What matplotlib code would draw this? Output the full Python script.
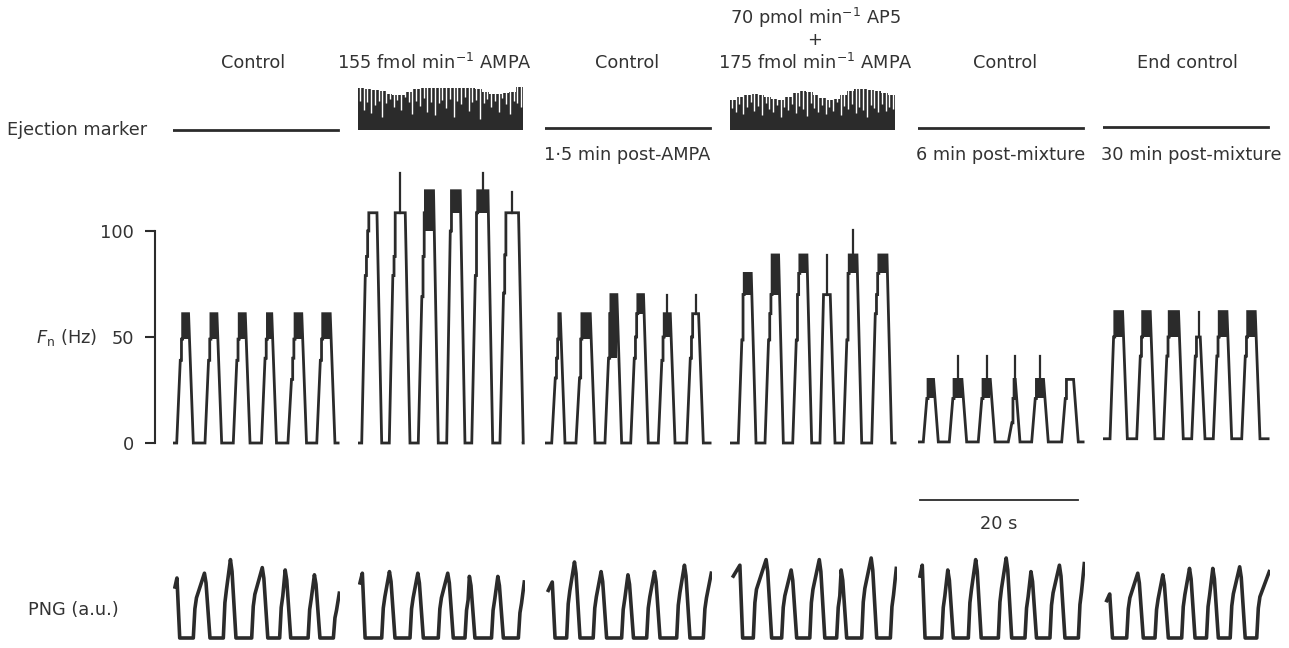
import numpy as np
import matplotlib.pyplot as plt

W, H = 1289, 648
INK = '#2b2b2b'
plt.rcParams['font.family'] = ['DejaVu Sans']
plt.rcParams['mathtext.default'] = 'regular'
plt.rcParams['font.size'] = 12.8
plt.rcParams['text.color'] = '#333333'

# panel layout (pixels) and time scale
panel_x = [173, 358, 545, 730, 918, 1103]
PX_PER_S = 7.9
T_SPAN = 21.1

# firing rate bursts (s, Hz)
r1_on = [0.47, 4.05, 7.63, 11.2, 14.55, 18.2]
r1_off = [2.57, 6.16, 9.75, 13.1, 16.9, 20.5]
r1_steps = [[39, 49], [39, 49], [39, 49], [40, 49], [30, 40, 49], [39, 49]]
r1_top = [61, 61, 61, 61, 61, 61]
r1_blk = [49, 49, 49, 49, 49, 49]
r1_spk = [61, 61, 61, 61, 61, 61]

r2_on = [0.47, 3.96, 7.63, 11.23, 14.4, 17.97]
r2_off = [3.0, 6.58, 10.16, 13.54, 17.05, 20.92]
r2_steps = [[79, 88, 100], [79, 88], [69, 88, 108.6], [100], [79, 108.6], [70.7, 88.7]]
r2_top = [108.6, 108.6, 119, 119, 119, 108.6]
r2_blk = [108.6, 108.6, 100, 108.6, 108.6, 108.6]
r2_spk = [108.6, 127.5, 119, 119, 127.5, 118.6]

r3_on = [0.85, 3.92, 7.59, 10.85, 14.34, 17.94]
r3_off = [2.53, 6.33, 9.7, 13.07, 16.46, 20.04]
r3_steps = [[30.7, 40, 49], [30.7, 49], [40, 61], [40, 50, 61], [39, 50], [40, 50, 61]]
r3_top = [61, 61, 70, 70, 61, 61]
r3_blk = [49, 49, 40, 61, 50, 61]
r3_spk = [61, 61, 70, 70, 70, 70]

r4_on = [1.05, 4.43, 7.94, 11.39, 14.34, 17.94]
r4_off = [3.29, 6.75, 10.34, 13.29, 16.67, 20.47]
r4_steps = [[48.6, 70], [48.6, 61, 70], [48.6, 70, 80], [70], [48.6, 80], [61, 70, 80]]
r4_top = [80, 88.7, 88.7, 70, 88.7, 88.7]
r4_blk = [70, 70, 80, 70, 80, 80]
r4_spk = [80, 88.7, 88.7, 88.7, 100.5, 88.7]

r5_on = [0.67, 3.96, 7.63, 11.43, 14.39, 18.19]
r5_off = [2.57, 6.16, 9.75, 12.91, 16.49, 20.29]
r5_steps = [[21], [21], [21], [9.5, 21], [21], [21]]
r5_top = [30, 30, 30, 30, 30, 30]
r5_blk = [21, 21, 21, 21, 21, 30]
r5_spk = [30, 41, 41, 41, 41, 30]

r6_on = [0.89, 4.27, 7.63, 11.23, 13.96, 17.56]
r6_off = [3.08, 6.58, 10.16, 12.91, 16.29, 19.87]
r6_steps = [[50], [41, 50], [41, 50], [41, 50], [41, 50], [41, 50]]
r6_top = [62, 62, 62, 50, 62, 62]
r6_blk = [50, 50, 50, 50, 50, 50]
r6_spk = [62, 62, 62, 62, 62, 62]

rate_base = [0, 0, 0, 0, 0.5, 2.0]
trace_span = [0.0, 20.9]

# PNG cycles (s, a.u.)
p1_start, p1_ups = 0.25, [2.57, 6.37, 9.96, 13.5, 17.1, 20.3]
p1_downs = [0.85, 4.68, 7.97, 12.0, 14.9, 18.6]
p1_peaks = [0.75, 0.81, 0.98, 0.88, 0.85, 0.79, 0.56]
p2_start, p2_ups = 0.25, [3.0, 6.58, 10.16, 13.54, 16.9, 20.3]
p2_downs = [0.9, 4.68, 8.27, 12.06, 14.8, 18.4]
p2_peaks = [0.81, 0.83, 0.81, 0.81, 0.77, 0.77, 0.7]
p3_start, p3_ups = 0.42, [2.74, 6.1, 9.7, 12.87, 16.67, 20.04]
p3_downs = [1.27, 4.43, 7.8, 11.2, 14.56, 18.35]
p3_peaks = [0.7, 0.95, 0.83, 0.79, 0.83, 0.91, 0.81]
p4_start, p4_ups = 0.42, [2.95, 6.54, 10.1, 13.5, 16.67, 20.3]
p4_downs = [1.6, 5.27, 8.44, 12.0, 14.77, 18.57]
p4_peaks = [0.91, 0.98, 0.85, 0.98, 0.85, 1.0, 0.87]
p5_start, p5_ups = 0.25, [3.0, 6.37, 10.17, 13.54, 16.7, 20.3]
p5_downs = [0.89, 4.47, 8.0, 11.86, 15.0, 18.6]
p5_peaks = [0.91, 0.85, 0.98, 1.0, 0.83, 0.91, 0.93]
p6_start, p6_ups = 0.47, [3.0, 6.58, 9.96, 13.1, 16.1, 19.46]
p6_downs = [1.2, 5.1, 8.27, 11.65, 14.6, 18.0]
p6_peaks = [0.55, 0.81, 0.79, 0.87, 0.87, 0.89, 0.83]

# ejection markers
marker_level = [0.04, None, 0.08, None, 0.08, 0.1]
env2 = [0.88, 0.87, 0.85, 0.82, 0.76, 0.74, 0.75, 0.80, 0.86, 0.88, 0.89, 0.89,
        0.88, 0.88, 0.89, 0.88, 0.88, 0.86, 0.80, 0.77, 0.76, 0.78, 0.80, 0.90]
env4 = [0.64, 0.70, 0.74, 0.76, 0.74, 0.70, 0.66, 0.64, 0.70, 0.78, 0.82, 0.80,
        0.74, 0.68, 0.64, 0.66, 0.74, 0.82, 0.86, 0.86, 0.85, 0.82, 0.78, 0.74]
gaps2 = [0.62, 0.45, 0.60, 0.38, 0.55, 0.62, 0.30, 0.58, 0.66, 0.50, 0.64, 0.44,
         0.70, 0.60, 0.36, 0.62, 0.52, 0.68, 0.40, 0.60, 0.34, 0.58, 0.64, 0.48,
         0.66, 0.30, 0.62, 0.56, 0.70, 0.42, 0.60, 0.64, 0.26, 0.58, 0.66, 0.50,
         0.62, 0.40, 0.68, 0.56, 0.36, 0.62, 0.58, 0.50]
gaps4 = [0.48, 0.40, 0.56, 0.36, 0.50, 0.60, 0.42, 0.52, 0.34, 0.58, 0.46, 0.40,
         0.54, 0.30, 0.50, 0.44, 0.56, 0.38, 0.52, 0.46, 0.32, 0.58, 0.48, 0.40,
         0.54, 0.36, 0.50, 0.42, 0.60, 0.34, 0.52, 0.46, 0.56, 0.38, 0.50, 0.44,
         0.30, 0.54, 0.48, 0.40, 0.56, 0.42, 0.50, 0.46]
scale_bar = [0.25, 20.25]

RISE, STEP, FALL = 0.45, 0.15, 0.6

fig = plt.figure(figsize=(W / 100, H / 100), dpi=100)


def px_axes(x0, y0, x1, y1):
    ax = fig.add_axes([x0 / W, 1 - y1 / H, (x1 - x0) / W, (y1 - y0) / H])
    ax.set_axis_off()
    return ax


def ftext(x, y, s, **kw):
    kw.setdefault('ha', 'center')
    kw.setdefault('va', 'center')
    fig.text(x / W, 1 - y / H, s, **kw)


def draw_rate(ax, on, off, steps, top, blk, spk, base):
    xs, ys = [trace_span[0]], [base]
    for t0, t1, lv, tp, lo, sp in zip(on, off, steps, top, blk, spk):
        levels = lv + [tp]
        te = t1 - FALL
        st = STEP
        if len(levels) > 1 and t0 + RISE + st * (len(levels) - 1) > te - 0.15:
            st = (te - 0.15 - t0 - RISE) / (len(levels) - 1)
        xs += [t0, t0 + RISE]
        ys += [base, levels[0]]
        t = t0 + RISE
        for a, b in zip(levels[:-1], levels[1:]):
            t += st
            xs += [t, t]
            ys += [a, b]
        xs += [te, t1]
        ys += [tp, base]
        if lo < tp:
            ax.fill_between([t, te], lo, tp, color=INK, lw=0)
        if sp > tp:
            ax.plot([(t + te) / 2] * 2, [tp, sp], color=INK, lw=1.6)
    xs.append(trace_span[1])
    ys.append(base)
    ax.plot(xs, ys, color=INK, lw=2, solid_joinstyle='miter')


def draw_png(ax, start, ups, downs, peaks):
    p0 = peaks[0]
    xs = [start, downs[0] - 0.35, downs[0]]
    ys = [0.85 * p0, p0, 0.0]
    for i, u in enumerate(ups):
        p = peaks[i + 1]
        xs += [u, u + 0.2, u + 0.4]
        ys += [0.0, 0.45 * p, 0.62 * p]
        if i + 1 < len(downs):
            d = downs[i + 1]
            xs += [d - 0.7, d - 0.5, d]
            ys += [p, 0.85 * p, 0.0]
        else:
            xs += [T_SPAN - 0.05]
            ys += [p]
    ax.plot(xs, ys, color=INK, lw=2.6)


rates = [
    (r1_on, r1_off, r1_steps, r1_top, r1_blk, r1_spk),
    (r2_on, r2_off, r2_steps, r2_top, r2_blk, r2_spk),
    (r3_on, r3_off, r3_steps, r3_top, r3_blk, r3_spk),
    (r4_on, r4_off, r4_steps, r4_top, r4_blk, r4_spk),
    (r5_on, r5_off, r5_steps, r5_top, r5_blk, r5_spk),
    (r6_on, r6_off, r6_steps, r6_top, r6_blk, r6_spk),
]
pngs = [
    (p1_start, p1_ups, p1_downs, p1_peaks),
    (p2_start, p2_ups, p2_downs, p2_peaks),
    (p3_start, p3_ups, p3_downs, p3_peaks),
    (p4_start, p4_ups, p4_downs, p4_peaks),
    (p5_start, p5_ups, p5_downs, p5_peaks),
    (p6_start, p6_ups, p6_downs, p6_peaks),
]
envs = {1: (env2, gaps2), 3: (env4, gaps4)}

# y mapping of firing-rate axes: 0 Hz at 443 px, 2.12 px/Hz
R_LO, R_HI = -5, 130
ry0 = 443 - R_HI * 2.12
ry1 = 443 - R_LO * 2.12

for i, x0 in enumerate(panel_x):
    x1 = x0 + T_SPAN * PX_PER_S

    # ejection marker
    am = px_axes(x0, 82, x1, 132)
    am.set_xlim(0, T_SPAN)
    am.set_ylim(0, 1)
    if marker_level[i] is not None:
        am.plot(trace_span, [marker_level[i]] * 2, color=INK, lw=2)
    else:
        env, gaps = envs[i]
        edges = np.linspace(trace_span[0], trace_span[1], len(env) + 1)
        am.stairs(env, edges, baseline=0.04, fill=True, color=INK)
        gx = np.linspace(trace_span[0] + 0.25, trace_span[1] - 0.25, len(gaps))
        am.vlines(gx, gaps, 1.0, color='white', lw=1.0)

    # firing rate
    ar = px_axes(x0, ry0, x1, ry1)
    ar.set_xlim(0, T_SPAN)
    ar.set_ylim(R_LO, R_HI)
    draw_rate(ar, *rates[i], rate_base[i])

    # PNG
    ap = px_axes(x0, 550, x1, 645)
    ap.set_xlim(0, T_SPAN)
    ap.set_ylim(-0.0875, 1.1)
    draw_png(ap, *pngs[i])

# Fn scale axis
sa = fig.add_axes([155 / W, 1 - ry1 / H, 10 / W, (ry1 - ry0) / H])
sa.set_ylim(R_LO, R_HI)
sa.set_xticks([])
for s in ['top', 'right', 'bottom']:
    sa.spines[s].set_visible(False)
sa.spines['left'].set_bounds(0, 100)
sa.spines['left'].set_color(INK)
sa.spines['left'].set_linewidth(1.5)
sa.set_yticks([0, 50, 100])
sa.tick_params(axis='y', direction='out', length=7, width=1.5, color=INK,
               pad=8, labelcolor='#333333', labelsize=12.8)
sa.patch.set_visible(False)

# 20 s scale bar
sb = px_axes(panel_x[4], 490, panel_x[4] + T_SPAN * PX_PER_S, 510)
sb.set_xlim(0, T_SPAN)
sb.set_ylim(-1, 1)
sb.plot(scale_bar, [0, 0], color=INK, lw=1.3)
ftext(999, 524, '20 s')

# labels
ftext(253, 63, 'Control')
ftext(434, 63, '155 fmol min$^{-1}$ AMPA')
ftext(627, 63, 'Control')
ftext(815, 18, '70 pmol min$^{-1}$ AP5')
ftext(815, 40, '+')
ftext(815, 63, '175 fmol min$^{-1}$ AMPA')
ftext(1005, 63, 'Control')
ftext(1187, 63, 'End control')
ftext(7, 130, 'Ejection marker', ha='left')
ftext(627, 155, '1·5 min post-AMPA')
ftext(1001, 155, '6 min post-mixture')
ftext(1191, 155, '30 min post-mixture')
ftext(67, 337, r'$\mathit{F}_{n}$ (Hz)')
ftext(28, 610, 'PNG (a.u.)', ha='left')

fig.savefig('out.png', dpi=100, facecolor='white')
